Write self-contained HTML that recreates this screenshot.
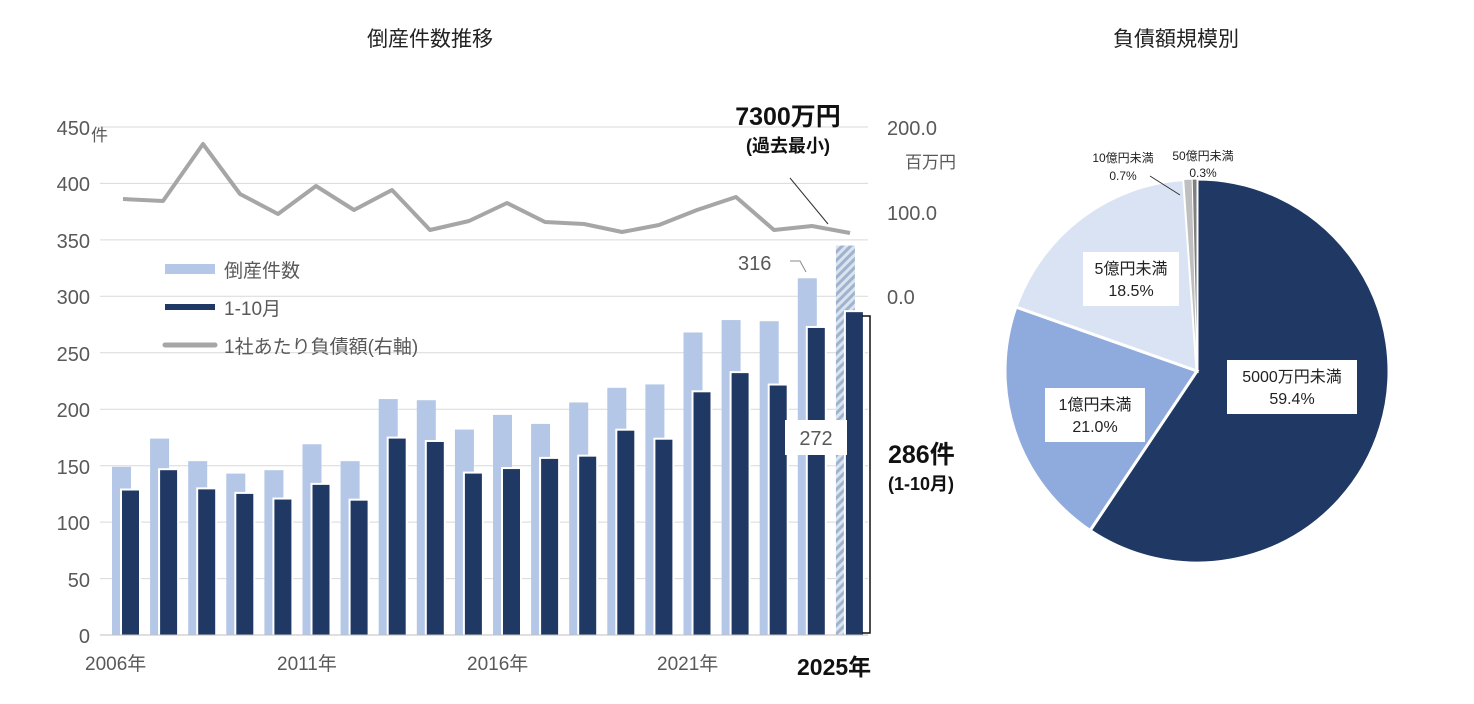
<!DOCTYPE html>
<html><head><meta charset="utf-8"><style>
body{margin:0;background:#fff}
svg text{font-family:"Liberation Sans","Noto Sans CJK JP",sans-serif}
</style></head><body>
<svg width="1474" height="699" xmlns="http://www.w3.org/2000/svg">
<defs><pattern id="h" width="6" height="6" patternUnits="userSpaceOnUse" patternTransform="rotate(45)"><rect width="6" height="6" fill="#dbe3ee"/><rect width="3" height="6" fill="#9fb3cf"/></pattern></defs>
<text x="430" y="46" font-size="21" text-anchor="middle" fill="#222">倒産件数推移</text>
<text x="1176" y="46" font-size="21" text-anchor="middle" fill="#222">負債額規模別</text>
<g stroke="#d9d9d9" stroke-width="1">
<line x1="100" x2="868" y1="127" y2="127"/><line x1="100" x2="868" y1="183.4" y2="183.4"/><line x1="100" x2="868" y1="239.9" y2="239.9"/><line x1="100" x2="868" y1="296.3" y2="296.3"/><line x1="100" x2="868" y1="352.8" y2="352.8"/><line x1="100" x2="868" y1="409.2" y2="409.2"/><line x1="100" x2="868" y1="465.7" y2="465.7"/><line x1="100" x2="868" y1="522.1" y2="522.1"/><line x1="100" x2="868" y1="578.6" y2="578.6"/>
</g>
<g font-size="20" fill="#595959" text-anchor="end">
<text x="90" y="135">450</text><text x="90" y="191">400</text><text x="90" y="248">350</text><text x="90" y="304">300</text><text x="90" y="361">250</text><text x="90" y="417">200</text><text x="90" y="474">150</text><text x="90" y="530">100</text><text x="90" y="587">50</text><text x="90" y="643">0</text>
</g>
<text x="91" y="141" font-size="17" fill="#595959">件</text>
<g font-size="20" fill="#595959">
<text x="887" y="135">200.0</text><text x="887" y="220">100.0</text><text x="887" y="304">0.0</text>
<text x="905" y="168" font-size="17">百万円</text>
</g>
<g id="bars"></g>
<line x1="100" x2="868" y1="635" y2="635" stroke="#bfbfbf"/>
<g font-size="19" fill="#595959">
<text x="85" y="670">2006年</text><text x="277" y="670">2011年</text><text x="467" y="670">2016年</text><text x="657" y="670">2021年</text>
</g>
<text x="797" y="675" font-size="23" font-weight="bold" fill="#111">2025年</text>
<polyline fill="none" stroke="#a6a6a6" stroke-width="4" stroke-linejoin="round" points="123,199 163,201 203,144 240,194 278,214 316,186 354,210 392,190 430,230 469,221 507,203 545,222 584,224 622,232 659,225 697,210 736,197 774,230 812,226 850,233"/>
<line x1="165" x2="215" y1="269" y2="269" stroke="#b4c7e7" stroke-width="10"/>
<text x="224" y="277" font-size="19" fill="#595959">倒産件数</text>
<line x1="165" x2="215" y1="307" y2="307" stroke="#203864" stroke-width="6"/>
<text x="224" y="315" font-size="19" fill="#595959">1-10月</text>
<line x1="165" x2="215" y1="345" y2="345" stroke="#a6a6a6" stroke-width="5" stroke-linecap="round"/>
<text x="224" y="353" font-size="19" fill="#595959">1社あたり負債額(右軸)</text>
<text x="788" y="125" font-size="25" font-weight="bold" text-anchor="middle" fill="#111">7300万円</text>
<text x="788" y="152" font-size="18" font-weight="bold" text-anchor="middle" fill="#111">(過去最小)</text>
<line x1="790" y1="178" x2="828" y2="224" stroke="#333" stroke-width="1"/>
<text x="738" y="270" font-size="20" fill="#595959">316</text>
<polyline points="790,261 800,261 806,272" fill="none" stroke="#888"/>
<rect x="785" y="420" width="62" height="35" fill="#fff"/>
<text x="816" y="445" font-size="20" text-anchor="middle" fill="#595959">272</text>
<polyline points="862,316 870,316 870,633 862,633" fill="none" stroke="#111" stroke-width="1.5"/>
<text x="888" y="463" font-size="25" font-weight="bold" fill="#111">286件</text>
<text x="888" y="490" font-size="18" font-weight="bold" fill="#111">(1-10月)</text>
<g stroke="#fff" stroke-width="3">
<path d="M1197,371 L1197,179 A192,192 0 1,1 1090.1,530.5 Z" fill="#203864"/>
<path d="M1197,371 L1090.1,530.5 A192,192 0 0,1 1016,307 Z" fill="#8faadc"/>
<path d="M1197,371 L1016,307 A192,192 0 0,1 1183.7,179.5 Z" fill="#dae3f3"/>
<path d="M1197,371 L1183.7,179.5 A192,192 0 0,1 1192.2,179.1 Z" fill="#bfbfbf" stroke-width="1"/>
<path d="M1197,371 L1192.2,179.1 A192,192 0 0,1 1197,179 Z" fill="#808080" stroke-width="1"/>
</g>
<rect x="1227" y="360" width="130" height="54" fill="#fff"/>
<text x="1292" y="382" font-size="16" text-anchor="middle" fill="#222">5000万円未満</text>
<text x="1292" y="404" font-size="16" text-anchor="middle" fill="#222">59.4%</text>
<rect x="1045" y="388" width="100" height="54" fill="#fff"/>
<text x="1095" y="410" font-size="16" text-anchor="middle" fill="#222">1億円未満</text>
<text x="1095" y="432" font-size="16" text-anchor="middle" fill="#222">21.0%</text>
<rect x="1083" y="252" width="96" height="54" fill="#fff"/>
<text x="1131" y="274" font-size="16" text-anchor="middle" fill="#222">5億円未満</text>
<text x="1131" y="296" font-size="16" text-anchor="middle" fill="#222">18.5%</text>
<text x="1123" y="162" font-size="12" text-anchor="middle" fill="#222">10億円未満</text>
<text x="1123" y="180" font-size="12" text-anchor="middle" fill="#222">0.7%</text>
<text x="1203" y="160" font-size="12" text-anchor="middle" fill="#222">50億円未満</text>
<text x="1203" y="177" font-size="12" text-anchor="middle" fill="#222">0.3%</text>
<line x1="1150" y1="176" x2="1180" y2="195" stroke="#333"/>
</svg>
<script>
var L=[149,174,154,143,146,169,154,209,208,182,195,187,206,219,222,268,279,278,316,345];
var D=[128,146,129,125,120,133,119,174,171,143,147,156,158,181,173,215,232,221,272,286];
var s='',k=56.44/50;
for(var i=0;i<20;i++){var x=112+i*38.1;
var h=L[i]*k;s+='<rect x="'+x+'" y="'+(635-h)+'" width="19" height="'+h+'" fill="'+(i==19?'url(#h)':'#b4c7e7')+'"/>';
var d=D[i]*k;s+='<rect x="'+(x+8)+'" y="'+(635-d-2)+'" width="21" height="'+(d+2)+'" fill="#fff"/><rect x="'+(x+10)+'" y="'+(635-d)+'" width="17" height="'+d+'" fill="#203864"/>';}
document.getElementById('bars').innerHTML=s;
</script>
</body></html>
